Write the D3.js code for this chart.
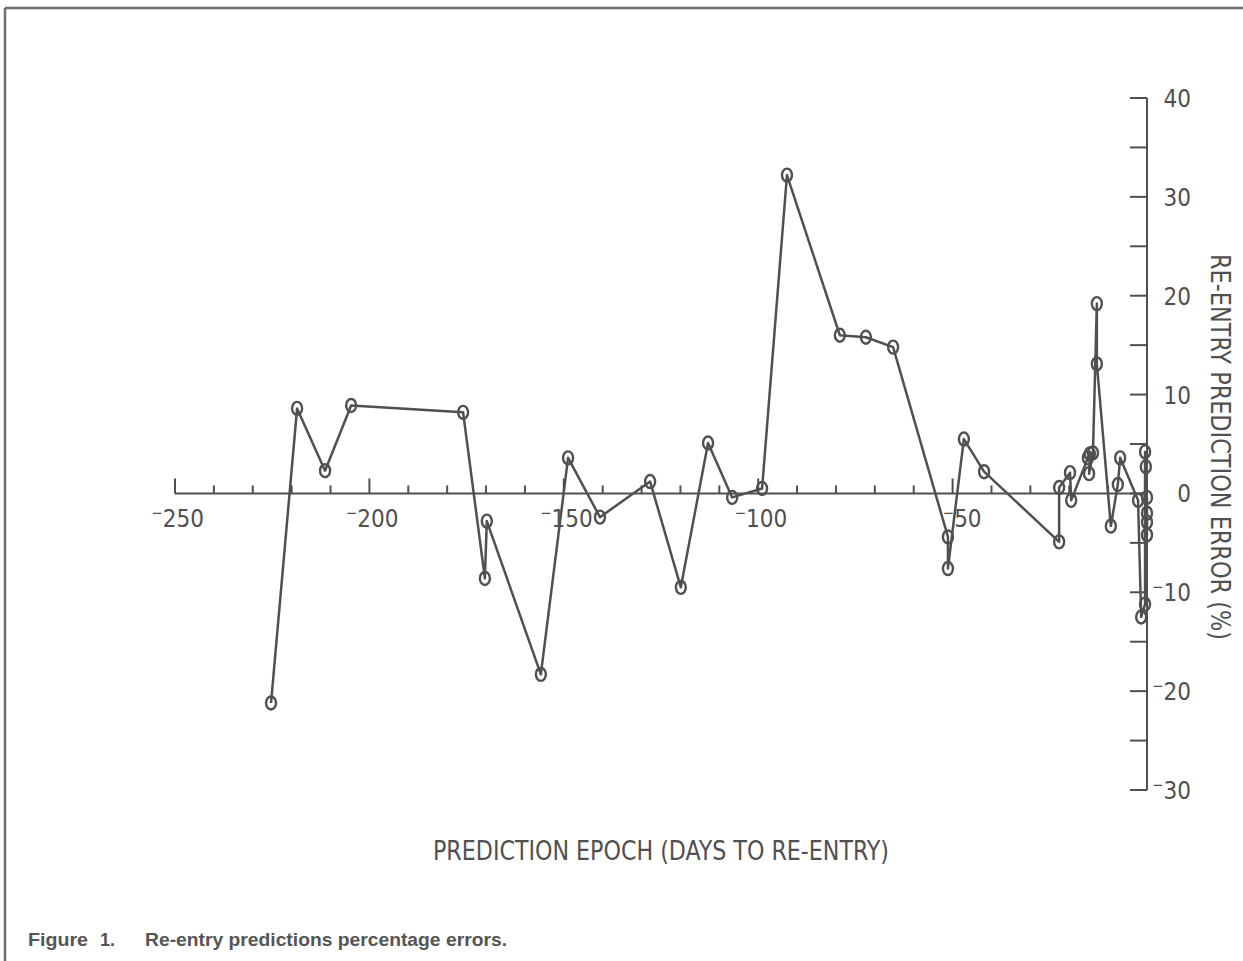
<!DOCTYPE html>
<html>
<head>
<meta charset="utf-8">
<script src="https://cdn.jsdelivr.net/npm/d3@7"></script>
<style>
  html, body { margin: 0; padding: 0; background: #ffffff; }
  svg { display: block; }
</style>
</head>
<body>
<svg id="chart" width="1243" height="961"></svg>
<script>
// ---- data ----
const days = [-225.3, -218.6, -211.4, -204.7, -175.9, -170.3, -169.8, -155.9, -148.9, -140.7,
  -127.8, -119.9, -112.9, -106.7, -99.0, -92.6, -79.0, -72.3, -65.3, -51.2,
  -51.2, -47.1, -41.9, -22.6, -22.6, -19.8, -19.5, -15.2, -14.7, -14.9,
  -13.9, -12.9, -12.9, -9.3, -7.5, -6.9, -2.3, -1.5, -0.5, -0.5,
  -0.3, 0, 0, 0, 0];
const errors = [-21.2, 8.6, 2.3, 8.9, 8.2, -8.6, -2.8, -18.3, 3.6, -2.4,
  1.2, -9.5, 5.1, -0.4, 0.5, 32.2, 16.0, 15.8, 14.8, -4.4,
  -7.6, 5.5, 2.2, -4.9, 0.6, 2.1, -0.7, 3.6, 4.0, 2.0,
  4.1, 19.2, 13.1, -3.3, 0.9, 3.6, -0.7, -12.5, -11.2, 4.2,
  2.7, -2.9, -0.4, -2.0, -4.2];
const xTickValues = d3.range(-250, 0, 10);
const xLabelValues = [-250, -200, -150, -100, -50];
const yTickValues = d3.range(-30, 41, 5);
const yLabelValues = [-30, -20, -10, 0, 10, 20, 30, 40];
const xTitle = "PREDICTION EPOCH (DAYS TO RE-ENTRY)";
const yTitle = "RE-ENTRY PREDICTION ERROR (%)";
const captionA = "Figure";
const captionN = "1.";
const captionB = "Re-entry predictions percentage errors.";

// ---- drawing ----
const ink = "#505050";
const plotFont = "'DejaVu Sans Condensed', 'DejaVu Sans', sans-serif";
const svg = d3.select("#chart");

const x = d3.scaleLinear().domain([-250, 0]).range([175, 1147]);
const y = d3.scaleLinear().domain([-30, 40]).range([790, 98]);

// frame (top and left edges of the scanned box)
svg.append("line").attr("x1", 5).attr("x2", 1243).attr("y1", 8).attr("y2", 8)
  .attr("stroke", "#6e6e6e").attr("stroke-width", 2.5);
svg.append("line").attr("x1", 5).attr("x2", 5).attr("y1", 8).attr("y2", 961)
  .attr("stroke", "#6e6e6e").attr("stroke-width", 2.5);

const axisG = svg.append("g").attr("stroke", ink).attr("stroke-width", 2).attr("fill", "none");

// x axis along zero line
axisG.append("line").attr("x1", x(-250)).attr("x2", x(0)).attr("y1", y(0)).attr("y2", y(0));
axisG.selectAll("line.xt").data(xTickValues).join("line").attr("class", "xt")
  .attr("x1", d => x(d)).attr("x2", d => x(d))
  .attr("y1", y(0)).attr("y2", d => y(0) - (d % 50 === 0 ? 15 : 8));

// y axis at day 0
axisG.append("line").attr("x1", x(0)).attr("x2", x(0)).attr("y1", y(40)).attr("y2", y(-30));
axisG.selectAll("line.yt").data(yTickValues).join("line").attr("class", "yt")
  .attr("x1", x(0) - 17).attr("x2", x(0))
  .attr("y1", d => y(d)).attr("y2", d => y(d));

// x tick labels
const xl = svg.append("g").attr("font-family", plotFont).attr("font-size", 24).attr("fill", ink);
xLabelValues.forEach(v => {
  const t = xl.append("text").attr("x", x(v) + 29).attr("y", y(0) + 34).attr("text-anchor", "end");
  t.append("tspan").attr("font-size", 15).attr("dy", -9).text("\u2212");
  t.append("tspan").attr("dy", 9).text(Math.abs(v));
});

// y tick labels
const yl = svg.append("g").attr("font-family", plotFont).attr("font-size", 24).attr("fill", ink);
yLabelValues.forEach(v => {
  const t = yl.append("text").attr("x", 1191).attr("y", y(v) + 9).attr("text-anchor", "end");
  if (v < 0) {
    t.append("tspan").attr("font-size", 15).attr("dy", -9).text("\u2212");
    t.append("tspan").attr("dy", 9).text(Math.abs(v));
  } else {
    t.text(v);
  }
});

// axis titles
svg.append("text").attr("x", 661).attr("y", 860).attr("text-anchor", "middle")
  .attr("font-family", plotFont).attr("font-size", 27).attr("fill", ink)
  .attr("textLength", 456).attr("lengthAdjust", "spacingAndGlyphs").text(xTitle);
svg.append("text").attr("transform", "translate(1211,447) rotate(90)")
  .attr("text-anchor", "middle").attr("font-family", plotFont).attr("font-size", 27).attr("fill", ink)
  .attr("textLength", 386).attr("lengthAdjust", "spacingAndGlyphs").text(yTitle);

// data line
const pts = days.map((d, i) => [d, errors[i]]);
svg.append("path").datum(pts)
  .attr("d", d3.line().x(d => x(d[0])).y(d => y(d[1])))
  .attr("fill", "none").attr("stroke", ink).attr("stroke-width", 2.5).attr("stroke-linejoin", "round");

// markers
svg.append("g").selectAll("ellipse").data(pts).join("ellipse")
  .attr("cx", d => x(d[0])).attr("cy", d => y(d[1]))
  .attr("rx", 5).attr("ry", 6.5)
  .attr("fill", "none").attr("stroke", ink).attr("stroke-width", 2.4);

// caption
const cap = svg.append("g").attr("font-family", "'Liberation Sans', Arial, sans-serif")
  .attr("font-weight", "bold").attr("font-size", 18).attr("fill", "#555");
cap.append("text").attr("x", 28).attr("y", 946).attr("textLength", 60).attr("lengthAdjust", "spacingAndGlyphs").text(captionA);
cap.append("text").attr("x", 100).attr("y", 946).text(captionN);
cap.append("text").attr("x", 145).attr("y", 946).attr("textLength", 362).attr("lengthAdjust", "spacingAndGlyphs").text(captionB);
</script>
</body>
</html>
